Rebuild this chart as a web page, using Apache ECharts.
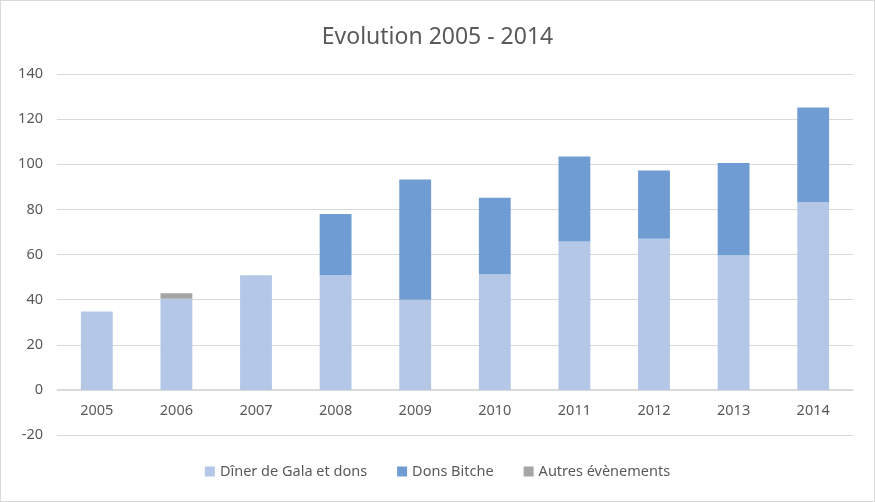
<!DOCTYPE html>
<html><head><meta charset="utf-8">
<script src="https://cdn.jsdelivr.net/npm/echarts@6/dist/echarts.min.js"></script>
<style>html,body{margin:0;padding:0;background:#fff}#c{width:875px;height:502px;box-sizing:border-box;border:1px solid #d9d9d9}</style>
</head><body><div id="c"></div>
<script>
const years = ['2005','2006','2007','2008','2009','2010','2011','2012','2013','2014'];
const dinerGala = [34.7, 40.4, 50.8, 50.8, 40.0, 51.3, 65.8, 67.0, 59.7, 83.3];
const donsBitche = [0, 0, 0, 27.1, 53.2, 33.8, 37.6, 30.2, 40.9, 41.9];
const autres = [0, 2.4, 0, 0, 0, 0, 0, 0, 0, 0];
const seriesNames = ['Dîner de Gala et dons', 'Dons Bitche', 'Autres évènements'];
const colors = ['#B4C7E7', '#709CD4', '#A5A5A5'];

const font = '"Noto Sans", sans-serif';
const gridTop = 73, gridBottom = 66, H = 502;
const yMin = -20, yMax = 140;
const zeroOffset = -(H - gridTop - gridBottom) * (0 - yMin) / (yMax - yMin);
const chart = echarts.init(document.getElementById('c'));
chart.setOption({
  animation: false,
  textStyle: {fontFamily: font},
  title: {text: 'Evolution 2005 - 2014', left: 'center', top: 20,
    textStyle: {fontFamily: font, fontSize: 23, fontWeight: 'normal', color: '#595959'}},
  legend: {bottom: 17, left: 'center', itemWidth: 10, itemHeight: 10, itemGap: 30,
    icon: 'rect', textStyle: {fontFamily: font, fontSize: 14.5, color: '#595959'},
    data: seriesNames},
  grid: {left: 56, right: 21, top: gridTop, bottom: gridBottom, containLabel: false},
  xAxis: {type: 'category', data: years, offset: zeroOffset,
    axisLine: {onZero: false, lineStyle: {color: '#D9D9D9'}},
    axisTick: {show: false},
    axisLabel: {color: '#595959', fontSize: 14.5, margin: 14, fontFamily: font}},
  yAxis: {type: 'value', min: yMin, max: yMax, interval: 20,
    axisLine: {show: false}, axisTick: {show: false},
    splitLine: {lineStyle: {color: '#D9D9D9'}},
    axisLabel: {color: '#595959', fontSize: 14.5, margin: 14, fontFamily: font}},
  series: [
    {name: seriesNames[0], type: 'bar', stack: 's', data: dinerGala, barWidth: '40%', itemStyle: {color: colors[0]}},
    {name: seriesNames[1], type: 'bar', stack: 's', data: donsBitche, itemStyle: {color: colors[1]}},
    {name: seriesNames[2], type: 'bar', stack: 's', data: autres, itemStyle: {color: colors[2]}}
  ]
});
</script></body></html>
